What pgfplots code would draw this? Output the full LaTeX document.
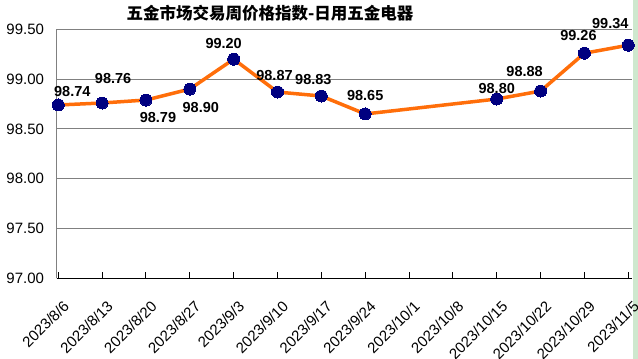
\documentclass[border=0pt]{standalone}
\usepackage{fontspec}
\setmainfont{Liberation Sans}
\newfontfamily\cjk{Noto Sans CJK SC}
\usepackage{pgfplots}
\pgfplotsset{compat=1.18}
\definecolor{lineor}{RGB}{255,110,10}
\definecolor{navy}{RGB}{0,0,128}
\definecolor{gridg}{RGB}{128,128,128}
\definecolor{strip}{RGB}{206,232,206}
\begin{document}
\begin{tikzpicture}
\fill[strip] (632.5bp,0) rectangle (638bp,359bp);
\begin{axis}[
  at={(56.7bp,80.7bp)}, anchor=south west,
  scale only axis, width=575bp, height=249bp,
  xmin=-0.036, xmax=13.078, ymin=97, ymax=99.5,
  axis x line*=bottom, axis y line*=left,
  x axis line style={black, line width=1bp, -},
  y axis line style={gridg, line width=1bp, -},
  xtick={0,...,13},
  xticklabels={2023/8/6,2023/8/13,2023/8/20,2023/8/27,2023/9/3,2023/9/10,2023/9/17,2023/9/24,2023/10/1,2023/10/8,2023/10/15,2023/10/22,2023/10/29,2023/11/5},
  ytick={97,97.5,98,98.5,99,99.5},
  ymajorgrids, grid style={gridg, line width=1bp},
  tick align=inside,
  xtick style={black, line width=1bp}, major tick length=6bp,
  ytick style={draw=none},
  /pgf/number format/assume math mode=true,
  yticklabel={\pgfmathprintnumber[fixed,fixed zerofill,precision=2]{\tick}},
  yticklabel style={font=\fontsize{15bp}{18bp}\selectfont, anchor=east, inner sep=0pt, xshift=-12.5bp},
  xticklabel style={font=\fontsize{15bp}{18bp}\selectfont, inner sep=0pt, xshift=4bp, yshift=-21bp, rotate=45, anchor=north east},
  clip=false,
]
\addplot[lineor, line width=3.5bp, mark=*, mark size=6bp, mark options={fill=navy, draw=navy, line width=0pt}]
 coordinates {(0,98.74) (1,98.76) (2,98.79) (3,98.90) (4,99.20) (5,98.87) (6,98.83) (7,98.65) (10,98.80) (11,98.88) (12,99.26) (13,99.34)};
\tikzset{dl/.style={font=\fontsize{14.5bp}{17bp}\selectfont\bfseries, inner sep=0pt}}
\node[dl, xshift=14bp, yshift=13bp] at (axis cs:0,98.74) {98.74};
\node[dl, xshift=11bp, yshift=24bp] at (axis cs:1,98.76) {98.76};
\node[dl, xshift=12bp, yshift=-17bp] at (axis cs:2,98.79) {98.79};
\node[dl, xshift=11bp, yshift=-18bp] at (axis cs:3,98.90) {98.90};
\node[dl, xshift=-10bp, yshift=16bp] at (axis cs:4,99.20) {99.20};
\node[dl, xshift=-3bp, yshift=17bp] at (axis cs:5,98.87) {98.87};
\node[dl, xshift=-8bp, yshift=17bp] at (axis cs:6,98.83) {98.83};
\node[dl, xshift=0bp, yshift=18bp] at (axis cs:7,98.65) {98.65};
\node[dl, xshift=0bp, yshift=11bp] at (axis cs:10,98.80) {98.80};
\node[dl, xshift=-16bp, yshift=20bp] at (axis cs:11,98.88) {98.88};
\node[dl, xshift=-6bp, yshift=18bp] at (axis cs:12,99.26) {99.26};
\node[dl, xshift=-18bp, yshift=22bp] at (axis cs:13,99.34) {99.34};
\end{axis}
\node[font=\cjk\bfseries\fontsize{16.5bp}{19bp}\selectfont, inner sep=0pt] at (270bp,346bp) {五金市场交易周价格指数-日用五金电器};
\pgfresetboundingbox
\path[use as bounding box] (0,0) rectangle (638bp,359bp);
\end{tikzpicture}
\end{document}
